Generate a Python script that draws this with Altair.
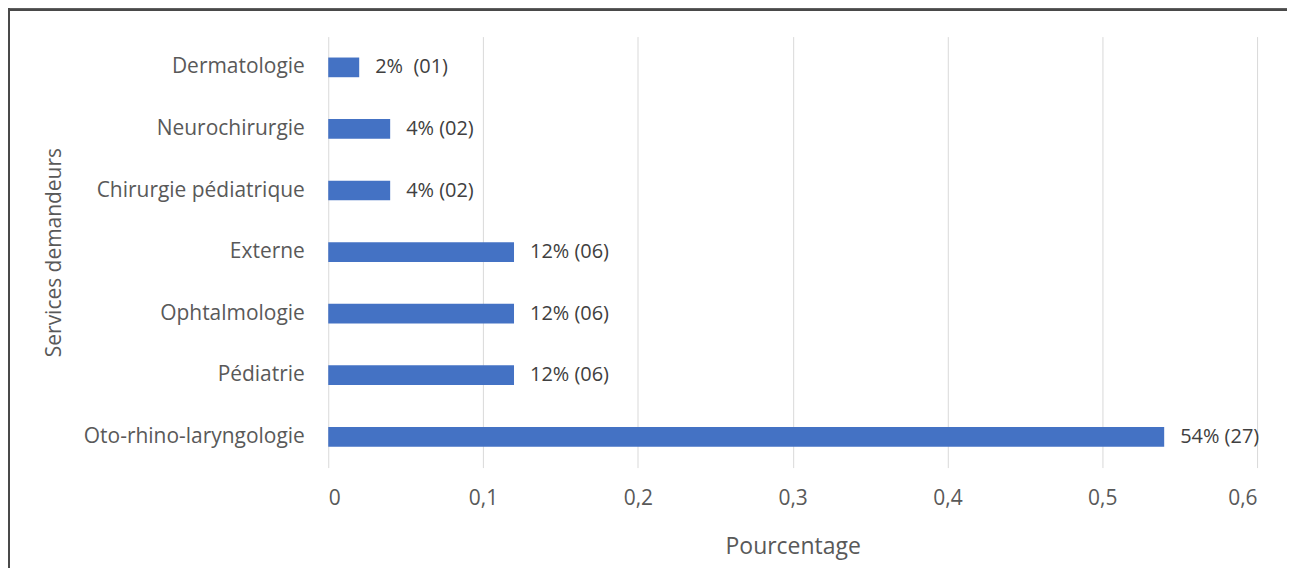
import altair as alt
import pandas as pd

services = ["Dermatologie", "Neurochirurgie", "Chirurgie pédiatrique", "Externe",
            "Ophtalmologie", "Pédiatrie", "Oto-rhino-laryngologie"]
pourcentages = [0.02, 0.04, 0.04, 0.12, 0.12, 0.12, 0.54]
etiquettes = ["2%\u00a0\u00a0(01)", "4% (02)", "4% (02)", "12% (06)", "12% (06)", "12% (06)", "54% (27)"]

df = pd.DataFrame({"service": services, "pct": pourcentages, "label": etiquettes})

FONT = "Open Sans"
GREY = "#595959"

y_enc = alt.Y("service:N", sort=services,
              scale=alt.Scale(paddingInner=0.68, paddingOuter=0.34),
              axis=alt.Axis(title="Services demandeurs", titleFont=FONT, titleFontSize=21,
                            titleFontWeight="normal", titleColor=GREY,
                            titleX=-274, titleY=216, titleAngle=270,
                            titleAlign="center", titleBaseline="middle",
                            labelFont=FONT, labelFontSize=21, labelColor=GREY, labelLimit=400,
                            labelPadding=24, ticks=False, domain=False, grid=False))
x_enc = alt.X("pct:Q", scale=alt.Scale(domain=[0, 0.6], nice=False),
              axis=alt.Axis(title="Pourcentage", titleFont=FONT, titleFontSize=23,
                            titleFontWeight="normal", titleColor=GREY, titlePadding=27,
                            values=[0, 0.1, 0.2, 0.3, 0.4, 0.5, 0.6],
                            labelExpr="replace(format(datum.value, '.1~f'), '.', ',')",
                            labelFont=FONT, labelFontSize=21, labelColor=GREY,
                            labelPadding=20, ticks=False, domain=False,
                            grid=True, gridColor="#d9d9d9", gridWidth=1))

bars = alt.Chart(df).mark_bar(color="#4472C4").encode(x=x_enc, y=y_enc)
text = alt.Chart(df).mark_text(align="left", baseline="middle", dx=16, font=FONT,
                               fontSize=20, color="#404040").encode(
    x="pct:Q", y=alt.Y("service:N", sort=services), text="label:N")

border_top = alt.Chart(df).mark_rule(color="#4a4a4a", strokeWidth=2).encode(
    x=alt.value(-321), x2=alt.value(1000), y=alt.value(-27))
border_left = alt.Chart(df).mark_rule(color="#4a4a4a", strokeWidth=2).encode(
    x=alt.value(-320), y=alt.value(-28), y2=alt.value(560))

chart = alt.layer(bars, text, border_top, border_left).properties(
    width=931, height=432,
    autosize=alt.AutoSizeParams(type="none"),
    padding={"left": 321, "top": 28, "right": 30, "bottom": 100},
    background="white",
).configure_view(stroke=None)

chart.save("out.html", embed_options={"renderer": "svg", "actions": False})
